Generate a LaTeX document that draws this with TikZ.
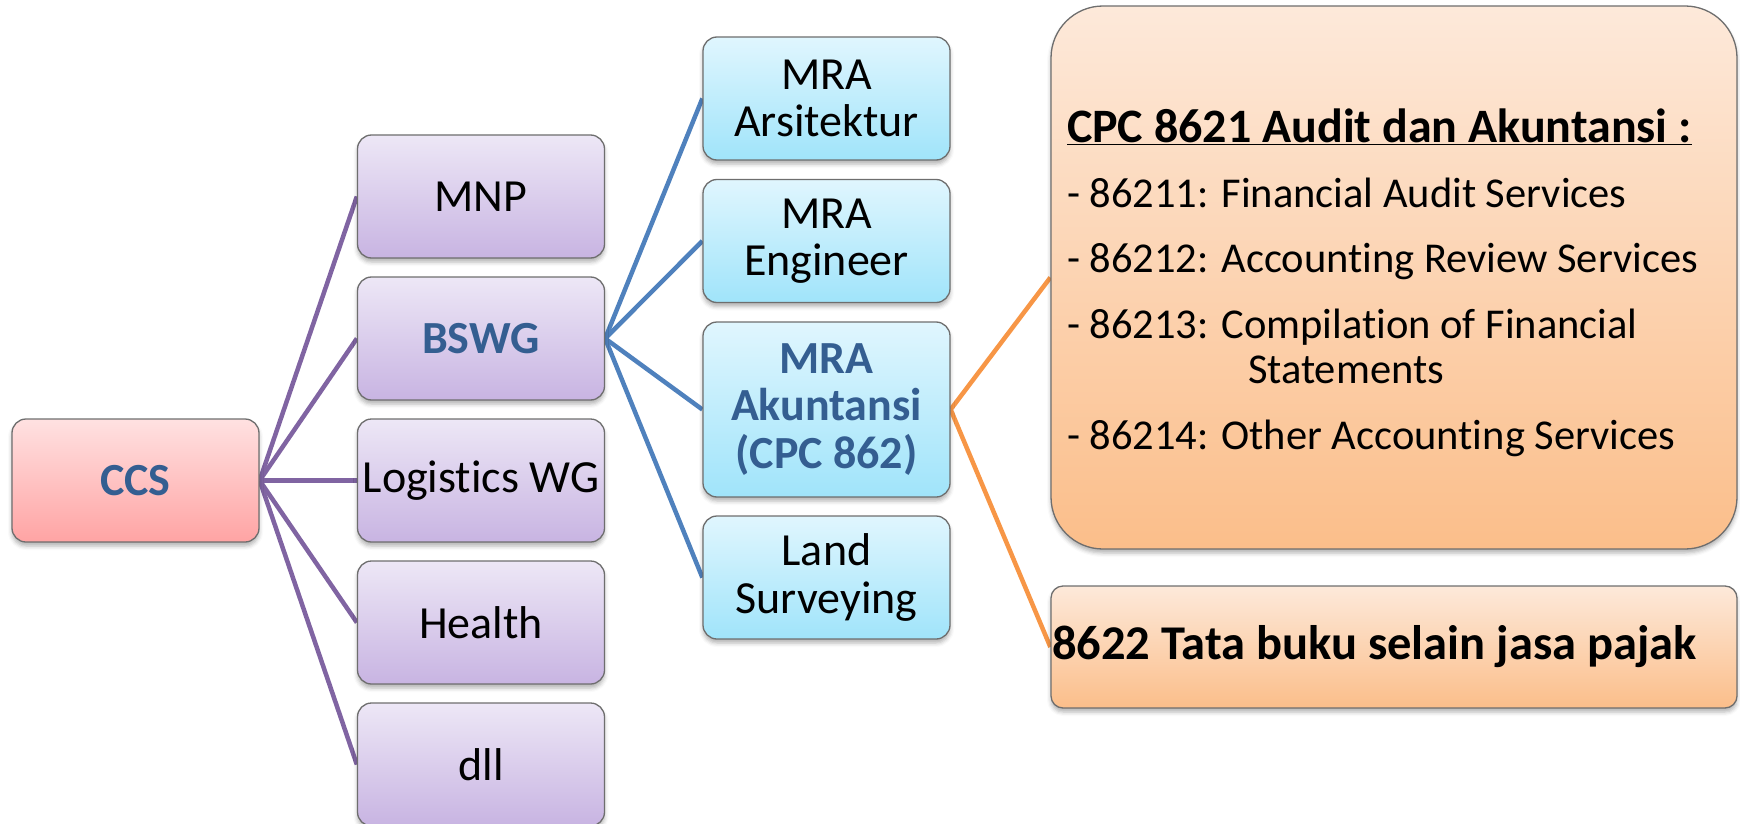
\documentclass[tikz,border=0pt]{standalone}
\usepackage{fontspec}
\setmainfont{Carlito}[Ligatures=NoCommon]
\usetikzlibrary{shadows.blur}
\pgfdeclarelayer{background}
\pgfsetlayers{background,main}

\definecolor{ccsTop}{RGB}{255,225,225}
\definecolor{ccsBot}{RGB}{255,164,164}
\definecolor{purTop}{RGB}{237,231,246}
\definecolor{purBot}{RGB}{200,180,226}
\definecolor{bluTop}{RGB}{224,246,254}
\definecolor{bluBot}{RGB}{160,228,250}
\definecolor{orgTop}{RGB}{253,233,218}
\definecolor{orgBot}{RGB}{251,190,138}
\definecolor{headBlue}{RGB}{52,94,145}
\definecolor{linePurple}{RGB}{128,100,162}
\definecolor{lineBlue}{RGB}{79,129,189}
\definecolor{lineOrange}{RGB}{247,150,70}
\definecolor{edgeGray}{RGB}{110,110,110}

\newcommand{\bodyfont}{\fontsize{46}{47.5}\selectfont}
\newcommand{\headfont}{\bfseries\fontsize{46}{47.5}\selectfont\color{headBlue}}
\newcommand{\listfont}{\fontsize{42.5}{45.5}\selectfont}

\tikzset{
  card/.style={draw=edgeGray, line width=1.3pt, rounded corners=14pt,
    minimum width=247pt, minimum height=123pt, inner sep=2pt, align=center,
    font=\bodyfont,
    blur shadow={shadow xshift=0pt, shadow yshift=-4pt, shadow blur radius=4pt, shadow opacity=30}},
  rootcard/.style={card, top color=ccsTop, bottom color=ccsBot},
  groupcard/.style={card, top color=purTop, bottom color=purBot},
  mracard/.style={card, top color=bluTop, bottom color=bluBot},
  cpccard/.style={card, top color=orgTop, bottom color=orgBot, minimum width=686pt, font=\listfont},
  purplelink/.style={draw=linePurple, line width=4.5pt},
  bluelink/.style={draw=lineBlue, line width=4.5pt},
  orangelink/.style={draw=lineOrange, line width=4.5pt},
}

\begin{document}
\begin{tikzpicture}[x=1pt, y=-1pt]
\useasboundingbox (0,0) rectangle (1740,824);

% root
\node[rootcard] (ccs) at (135.5,480.5) {\headfont CCS};

% working groups
\node[groupcard] (mnp) at (481,196.5) {MNP};
\node[groupcard] (bswg) at (481,338.5) {\headfont BSWG};
\node[groupcard] (logi) at (481,480.5) {Logistics WG};
\node[groupcard] (health) at (481,622.5) {Health};
\node[groupcard] (dll) at (481,764.5) {dll};

% mutual recognition arrangements
\node[mracard] (ars) at (826.5,98.5) {MRA\\Arsitektur};
\node[mracard] (eng) at (826.5,241) {MRA\\Engineer};
\node[mracard, minimum height=175pt] (akt) at (826.5,409.5)
  {\headfont MRA\\\headfont Akuntansi\\\headfont (CPC 862)};
\node[mracard] (land) at (826.5,577.5) {Land\\Surveying};

% CPC classes
\node[cpccard, rounded corners=52pt, minimum height=543pt, align=left,
      text width=654pt, inner xsep=16pt] (cpc) at (1394,277.5)
  {\spaceskip=0pt\xspaceskip=0pt\relax
   {\bfseries\fontsize{48}{48}\selectfont\rule{0pt}{44pt}\underline{CPC 8621 Audit dan Akuntansi :}}\\[19pt]
   - 86211: Financial Audit Services\\[20pt]
   - 86212: Accounting Review Services\\[20pt]
   - 86213: Compilation of Financial\\
   \hspace*{181pt}Statements\\[20pt]
   - 86214: Other Accounting Services};
\node[cpccard, rounded corners=12pt, minimum height=122pt, align=left,
      text width=684pt, inner xsep=1pt] (pajak) at (1394,647)
  {\spaceskip=0pt\xspaceskip=0pt\relax
   \bfseries\fontsize{48.5}{49}\selectfont 8622 Tata buku selain jasa pajak};

\begin{pgfonlayer}{background}
  \foreach \g in {mnp,bswg,logi,health,dll}
    \draw[purplelink] (ccs.east) -- (\g.west);
  \foreach \m in {ars,eng,akt,land}
    \draw[bluelink] (bswg.east) -- (\m.west);
  \draw[orangelink] (akt.east) -- (cpc.west);
  \draw[orangelink] (akt.east) -- (pajak.west);
\end{pgfonlayer}
\end{tikzpicture}
\end{document}
